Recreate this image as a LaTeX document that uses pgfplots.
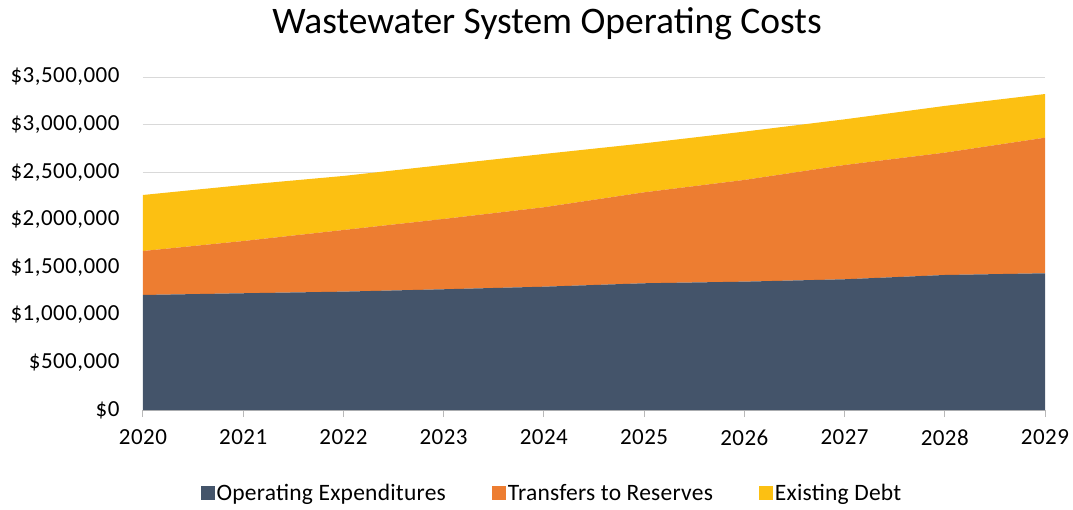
\documentclass[border=0pt]{standalone}
\usepackage{fontspec}
\setmainfont{Carlito}
\usepackage{pgfplots}
\pgfplotsset{compat=1.18}
\definecolor{opexblue}{RGB}{68,84,106}
\definecolor{resorange}{RGB}{237,125,49}
\definecolor{debtyellow}{RGB}{252,192,18}
\definecolor{gridgray}{RGB}{217,217,217}

\begin{document}
\begin{tikzpicture}
\path[use as bounding box] (-143pt,-99pt) rectangle (930pt,410pt);
\begin{axis}[
    at={(0pt,0pt)}, anchor=south west,
    scale only axis,
    width=902pt, height=333pt,
    stack plots=y,
    xmin=2020, xmax=2029,
    ymin=0, ymax=3500000,
    xtick={2020,2021,...,2029},
    ytick={0,500000,...,3500000},
    scaled y ticks=false,
    /pgf/number format/assume math mode=true,
    xticklabel style={/pgf/number format/1000 sep={}},
    yticklabel={\$\pgfmathprintnumber[fixed,precision=0,1000 sep={,}]{\tick}},
    tick label style={font=\fontsize{23}{26}\selectfont\addfontfeature{LetterSpace=2}},
    yticklabel style={xshift=-20pt},
    xticklabel style={yshift=-9pt},
    axis x line*=bottom, axis y line*=left,
    y axis line style={draw=none},
    x axis line style={draw=gray!55, line width=1pt},
    ytick style={draw=none},
    xtick style={draw=gray!55, line width=1pt},
    xtick align=outside,
    major tick length=7pt,
    ymajorgrids,
    grid style={gridgray, line width=1pt},
    legend columns=3,
    legend style={at={(0.4534,-0.249)}, anchor=center, draw=none, fill=none,
        font=\fontsize{23.5}{26}\selectfont\addfontfeature{LetterSpace=1},
        /tikz/every even column/.append style={column sep=44pt}},
    legend image code/.code={\path[#1] (0pt,-7pt) rectangle (14pt,7pt);},
]
\addplot[fill=opexblue, draw=none] coordinates {
    (2020,1209000) (2021,1227000) (2022,1244000) (2023,1269000) (2024,1296000)
    (2025,1332000) (2026,1349000) (2027,1374000) (2028,1419000) (2029,1437000)
} \closedcycle;
\addlegendentry{Operating Expenditures}
\addplot[fill=resorange, draw=none] coordinates {
    (2020,462000) (2021,549000) (2022,648000) (2023,739000) (2024,835000)
    (2025,956000) (2026,1069000) (2027,1201000) (2028,1286000) (2029,1425000)
} \closedcycle;
\addlegendentry{Transfers to Reserves}
\addplot[fill=debtyellow, draw=none] coordinates {
    (2020,589000) (2021,589000) (2022,568000) (2023,568000) (2024,560000)
    (2025,515000) (2026,508000) (2027,480000) (2028,491000) (2029,459000)
} \closedcycle;
\addlegendentry{Existing Debt}
\end{axis}
\node[font=\fontsize{37.5}{42}\selectfont] at (404pt,386pt) {Wastewater System Operating Costs};
\end{tikzpicture}
\end{document}
